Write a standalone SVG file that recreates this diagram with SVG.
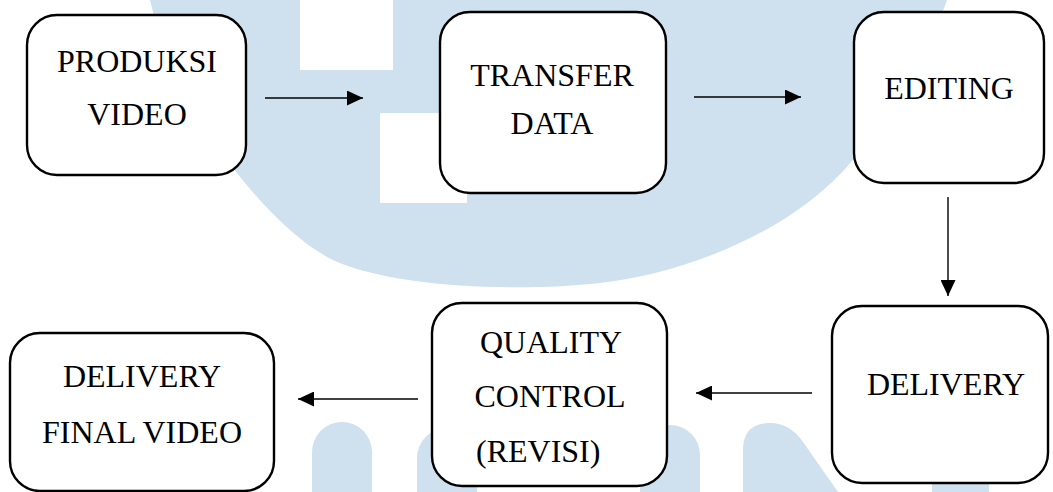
<svg xmlns="http://www.w3.org/2000/svg" width="1053" height="492" viewBox="0 0 1053 492">
  <style>
    .wm { fill: #cfe0ef; stroke: none; }
    .box { fill: #ffffff; stroke: #000000; stroke-width: 2.4; }
    .lbl { font-family: "Liberation Serif", "Times New Roman", serif; font-size: 32px; fill: #000000; text-anchor: middle; }
    .conn { stroke: #000000; stroke-width: 1.4; fill: none; marker-end: url(#arrow); }
  </style>
  <defs>
    <marker id="arrow" markerUnits="userSpaceOnUse" viewBox="0 0 16 15" refX="16" refY="7.5" markerWidth="16" markerHeight="15" orient="auto">
      <path d="M0,0 L16,7.5 L0,15 Z" fill="#000000"/>
    </marker>
  </defs>
  <rect x="0" y="0" width="1053" height="492" fill="#ffffff"/>
  <g id="watermark">
    <path class="wm" d="M150,0 C175,110 270,230 333,260 C393,288 520,292 600,283 C680,274 790,235 853,160 C890,118 930,50 947,0 Z"/>
    <rect x="300" y="0" width="93" height="70" fill="#ffffff"/>
    <rect x="380" y="113" width="87" height="90" fill="#ffffff"/>
    <path class="wm" d="M312,492 V452 A30,30 0 0 1 372,452 V492 Z"/>
    <path class="wm" d="M417,492 V458 A30,30 0 0 1 477,458 V492 Z"/>
    <path class="wm" d="M640,492 V455 A30,30 0 0 1 700,455 V492 Z"/>
    <path class="wm" d="M743,492 V450 Q743,423 770,423 Q790,423 803,442 L838,492 Z"/>
    <rect class="wm" x="932" y="440" width="57" height="52"/>
  </g>
  <g id="connectors">
    <line class="conn" x1="265" y1="98" x2="363" y2="98"/>
    <line class="conn" x1="694" y1="97" x2="801" y2="97"/>
    <line class="conn" x1="948" y1="197" x2="948" y2="296"/>
    <line class="conn" x1="812" y1="393" x2="696" y2="393"/>
    <line class="conn" x1="418" y1="399" x2="298" y2="399"/>
  </g>
  <g id="node-produksi">
    <rect class="box" x="27" y="15" width="219" height="160" rx="30"/>
    <text class="lbl" x="137" y="72">PRODUKSI</text>
    <text class="lbl" x="137" y="125">VIDEO</text>
  </g>
  <g id="node-transfer">
    <rect class="box" x="440" y="12" width="226" height="181" rx="30"/>
    <text class="lbl" x="552" y="86">TRANSFER</text>
    <text class="lbl" x="552" y="134">DATA</text>
  </g>
  <g id="node-editing">
    <rect class="box" x="854" y="12" width="190" height="171" rx="30"/>
    <text class="lbl" x="949" y="99">EDITING</text>
  </g>
  <g id="node-delivery">
    <rect class="box" x="832" y="306" width="216" height="177" rx="30"/>
    <text class="lbl" x="946" y="395">DELIVERY</text>
  </g>
  <g id="node-quality">
    <rect class="box" x="432" y="303" width="235" height="183" rx="30"/>
    <text class="lbl" x="551" y="353">QUALITY</text>
    <text class="lbl" x="550" y="407">CONTROL</text>
    <text class="lbl" x="476" y="462" style="text-anchor:start">(REVISI)</text>
  </g>
  <g id="node-final">
    <rect class="box" x="10" y="333" width="264" height="158" rx="30"/>
    <text class="lbl" x="142" y="387">DELIVERY</text>
    <text class="lbl" x="142" y="443">FINAL VIDEO</text>
  </g>
</svg>
